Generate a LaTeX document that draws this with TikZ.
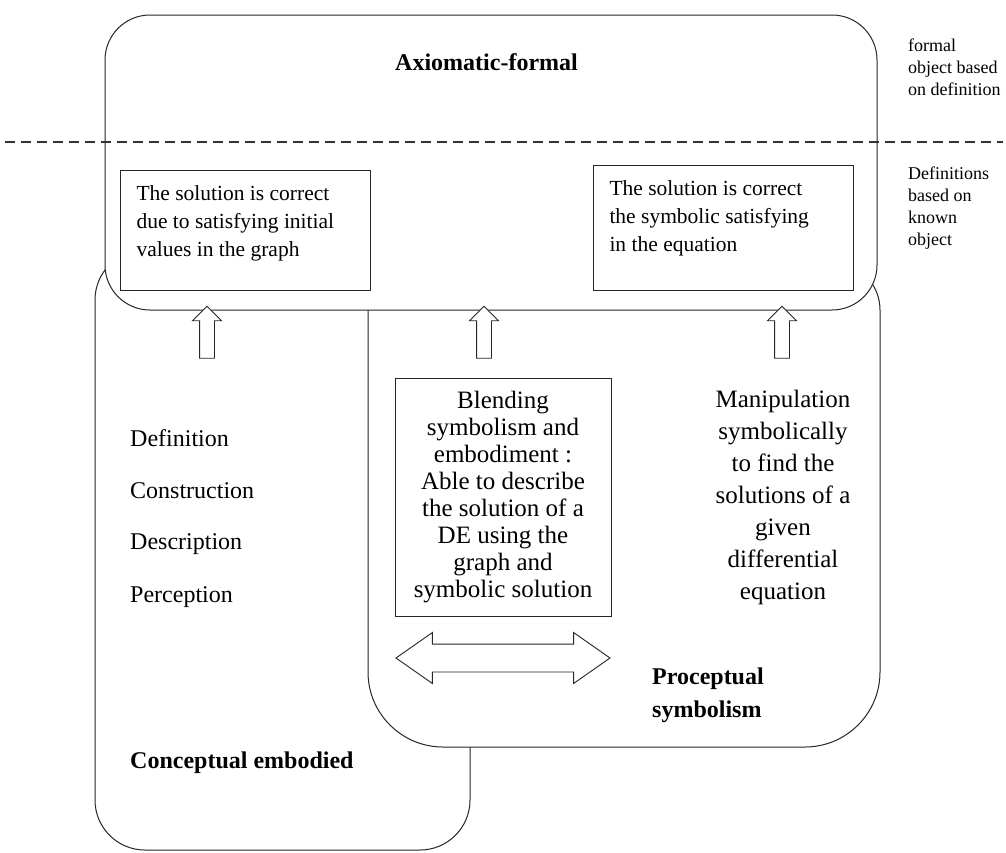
\documentclass[tikz,border=0pt]{standalone}
\usepackage{fontspec}
\setmainfont{Liberation Serif}
\usetikzlibrary{shapes.arrows}

\tikzset{
    region/.style={draw=black!85, fill=white, line width=1pt, rounded corners=#1, inner sep=0pt},
    infobox/.style={draw=black!85, fill=white, line width=1pt, inner xsep=16pt, inner ysep=15pt,
        anchor=north west, font=\fontsize{21.5}{28}\selectfont},
    sidenote/.style={anchor=west, align=left, inner sep=0pt, font=\fontsize{18}{22}\selectfont},
    heading/.style={anchor=west, align=left, inner sep=0pt, font=\fontsize{24}{33}\selectfont\bfseries},
    listitem/.style={anchor=west, inner sep=0pt, font=\fontsize{24}{28}\selectfont},
    uparrow/.style={single arrow, draw=black!85, fill=white, line width=0.9pt, shape border rotate=90,
        inner sep=7pt, single arrow head extend=7pt, minimum height=52pt},
    twoway/.style={double arrow, draw=black!85, fill=white, line width=0.9pt,
        inner sep=13.5pt, double arrow head extend=11.5pt, double arrow tip angle=70, minimum height=214pt},
    dashline/.style={draw=black!80, line width=1.2pt, dash pattern=on 10pt off 6pt}
}

\begin{document}
\begin{tikzpicture}[x=1pt, y=-1pt]
    \useasboundingbox (0,0) rectangle (1006,852);

    % the three zones
    \node[region=50pt, minimum width=375pt, minimum height=600pt] (embody) at (282.5,550) {};
    \draw[draw=black!85, fill=white, line width=1pt]
        (368,600) [rounded corners=48pt] -- (368,262) -- (880,262) -- (880,400)
        [rounded corners=75pt] -- (880,747) -- (368,747) -- cycle;
    \node[region=45pt, minimum width=772pt, minimum height=295pt] (axiom) at (491,162.5) {};

    \coordinate (dashL) at (5,142);
    \coordinate (dashR) at (1003,142);
    \draw[dashline] (dashL) -- (dashR);

    \node[heading] (axiomtitle) at (395,62) {Axiomatic-formal};

    % side notes
    \node[sidenote] (formalnote) at (908,67) {formal\\object based\\on definition};
    \node[sidenote] (knownnote) at (908,208) {Definitions\\based on\\known\\object};

    % boxes in the formal world
    \node[infobox] (graphbox) at (120,170)
        {\parbox[t][90pt][t]{218pt}{The solution is correct\\due to satisfying initial\\values in the graph}};
    \node[infobox] (symbox) at (593,165)
        {\parbox[t][95pt][t]{228pt}{The solution is correct\\the symbolic satisfying\\in the equation}};

    % arrows up to the formal world
    \foreach \x/\n in {207/a, 484/b, 782/c}{
        \node[uparrow] (up\n) at (\x,336) {};
    }

    % embodied world
    \foreach \word [count=\i] in {Definition, Construction, Description, Perception}{
        \node[listitem] (item\i) at (130,385+53*\i) {\word};
    }
    \node[heading] (embodytitle) at (130,763) {Conceptual embodied};

    % symbolic world
    \node[draw=black!85, fill=white, line width=1pt, minimum width=216pt, minimum height=238pt,
        align=center, inner sep=0pt, font=\fontsize{25}{27}\selectfont] (blendbox) at (503,497.5)
        {Blending\\symbolism and\\embodiment :\\Able to describe\\the solution of a\\DE using the\\graph and\\symbolic solution};
    \node[align=center, inner sep=0pt, font=\fontsize{25}{32}\selectfont] (manip) at (783,497)
        {Manipulation\\symbolically\\to find the\\solutions of a\\given\\differential\\equation};
    \node[twoway] (swap) at (503,658) {};
    \node[heading] (proceptitle) at (652,695) {Proceptual\\symbolism};
\end{tikzpicture}
\end{document}
